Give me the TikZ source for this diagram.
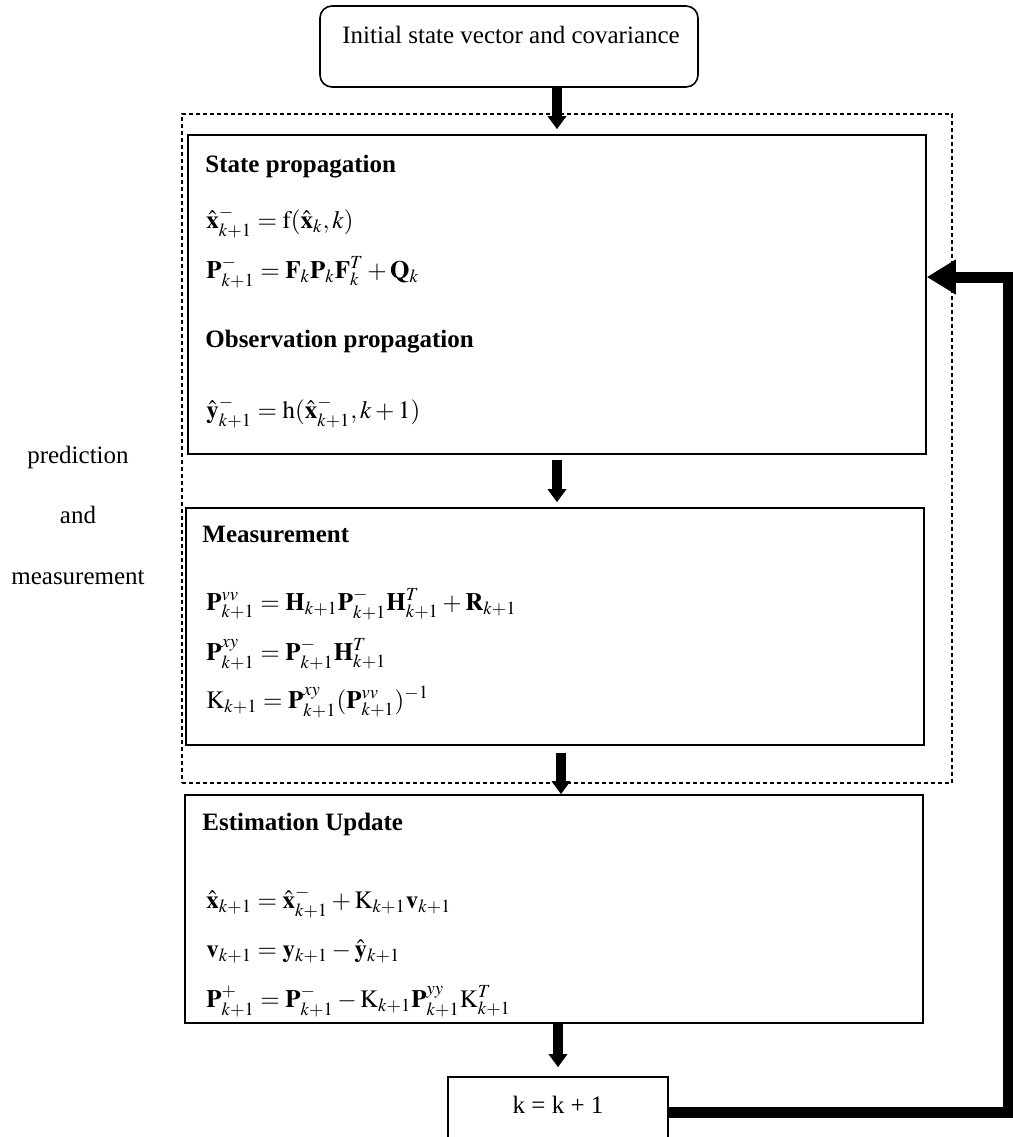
\documentclass[tikz,border=0pt]{standalone}
\usepackage{mathptmx}
\usepackage{fontspec}
\setmainfont{Liberation Serif}
\usetikzlibrary{arrows.meta}

\tikzset{
	box/.style={draw, line width=0.8pt, inner sep=0pt},
	txt/.style={anchor=base west, inner sep=0pt},
	hd/.style={txt, font=\fontsize{12.5}{15}\selectfont\bfseries},
	lbl/.style={anchor=base, inner sep=0pt},
	flow/.style={line width=5pt, -{Triangle[width=9pt,length=6.5pt]}},
	back/.style={line width=5.5pt, line join=miter, -{Triangle[width=16.5pt,length=14.5pt]}}
}

\begin{document}
\begin{tikzpicture}[x=0.5pt, y=-0.5pt, font=\fontsize{12.5}{15}\selectfont]
			\useasboundingbox (0,0) rectangle (1013,1137);
			\clip (0,0) rectangle (1013,1137);

			\node[box, rounded corners=6pt, minimum width=189pt, minimum height=40.5pt] (init) at (509,46.5) {};
			\node[txt] (inittxt) at (342,43) {Initial state vector and covariance};

			\node[draw, line width=1pt, dash pattern=on 2pt off 1.5pt, inner sep=0pt, minimum width=385pt, minimum height=334.5pt] (pm) at (567,448.5) {};

			\node[box, minimum width=369pt, minimum height=159.5pt] (state) at (557,294.5) {};
			\node[hd] (sphd) at (205,172) {State propagation};
			\node[txt] (sp1) at (206,228) {$\hat{\mathbf{x}}_{k+1}^{-} = \mathrm{f}(\hat{\mathbf{x}}_{k}, k)$};
			\node[txt] (sp2) at (206,278) {$\mathbf{P}_{k+1}^{-} = \mathbf{F}_{k}\mathbf{P}_{k}\mathbf{F}_{k}^{T} + \mathbf{Q}_{k}$};
			\node[hd] (ophd) at (205,347) {Observation propagation};
			\node[txt] (op1) at (206,418) {$\hat{\mathbf{y}}_{k+1}^{-} = \mathrm{h}(\hat{\mathbf{x}}_{k+1}^{-}, k+1)$};

			\node[box, minimum width=369pt, minimum height=118.5pt] (meas) at (555,626.5) {};
			\node[hd] (mshd) at (202,542) {Measurement};
			\node[txt] (ms1) at (206,610) {$\mathbf{P}_{k+1}^{vv} = \mathbf{H}_{k+1}\mathbf{P}_{k+1}^{-}\mathbf{H}_{k+1}^{T} + \mathbf{R}_{k+1}$};
			\node[txt] (ms2) at (206,660) {$\mathbf{P}_{k+1}^{xy} = \mathbf{P}_{k+1}^{-}\mathbf{H}_{k+1}^{T}$};
			\node[txt] (ms3) at (206,708) {$\mathrm{K}_{k+1} = \mathbf{P}_{k+1}^{xy}(\mathbf{P}_{k+1}^{vv})^{-1}$};

			\node[box, minimum width=369pt, minimum height=114pt] (est) at (554,909) {};
			\node[hd] (eshd) at (202,830) {Estimation Update};
			\node[txt] (es1) at (206,908) {$\hat{\mathbf{x}}_{k+1} = \hat{\mathbf{x}}_{k+1}^{-} + \mathrm{K}_{k+1}\mathbf{v}_{k+1}$};
			\node[txt] (es2) at (206,957) {$\mathbf{v}_{k+1} = \mathbf{y}_{k+1} - \hat{\mathbf{y}}_{k+1}$};
			\node[txt] (es3) at (206,1007) {$\mathbf{P}_{k+1}^{+} = \mathbf{P}_{k+1}^{-} - \mathrm{K}_{k+1}\mathbf{P}_{k+1}^{yy}\mathrm{K}_{k+1}^{T}$};

			\node[box, minimum width=110pt, minimum height=35pt] (kbox) at (558,1112) {};
			\node[lbl] (ktxt) at (558,1113) {k = k + 1};

			\node[lbl] (pmtxt1) at (78,463) {prediction};
			\node[lbl] (pmtxt2) at (78,523) {and};
			\node[lbl] (pmtxt3) at (78,584) {measurement};

			% arrows
			\coordinate (ax) at ([xshift=2pt]state.south);
			\coordinate (rt) at (1008,277);
			\draw[flow, shorten >=2.5pt] (init.south -| state.north) -- (state.north);
			\draw[flow, shorten <=2.5pt, shorten >=2.5pt] (state.south) -- (state.south |- meas.north);
			\draw[flow, shorten <=3.5pt] (ax |- meas.south) -- (ax |- est.north);
			\draw[flow, shorten >=4.5pt] (est.south -| kbox.north) -- (kbox.north);
			\draw[back] (kbox.east) -| (rt) -- (rt -| state.east);
\end{tikzpicture}
\end{document}
